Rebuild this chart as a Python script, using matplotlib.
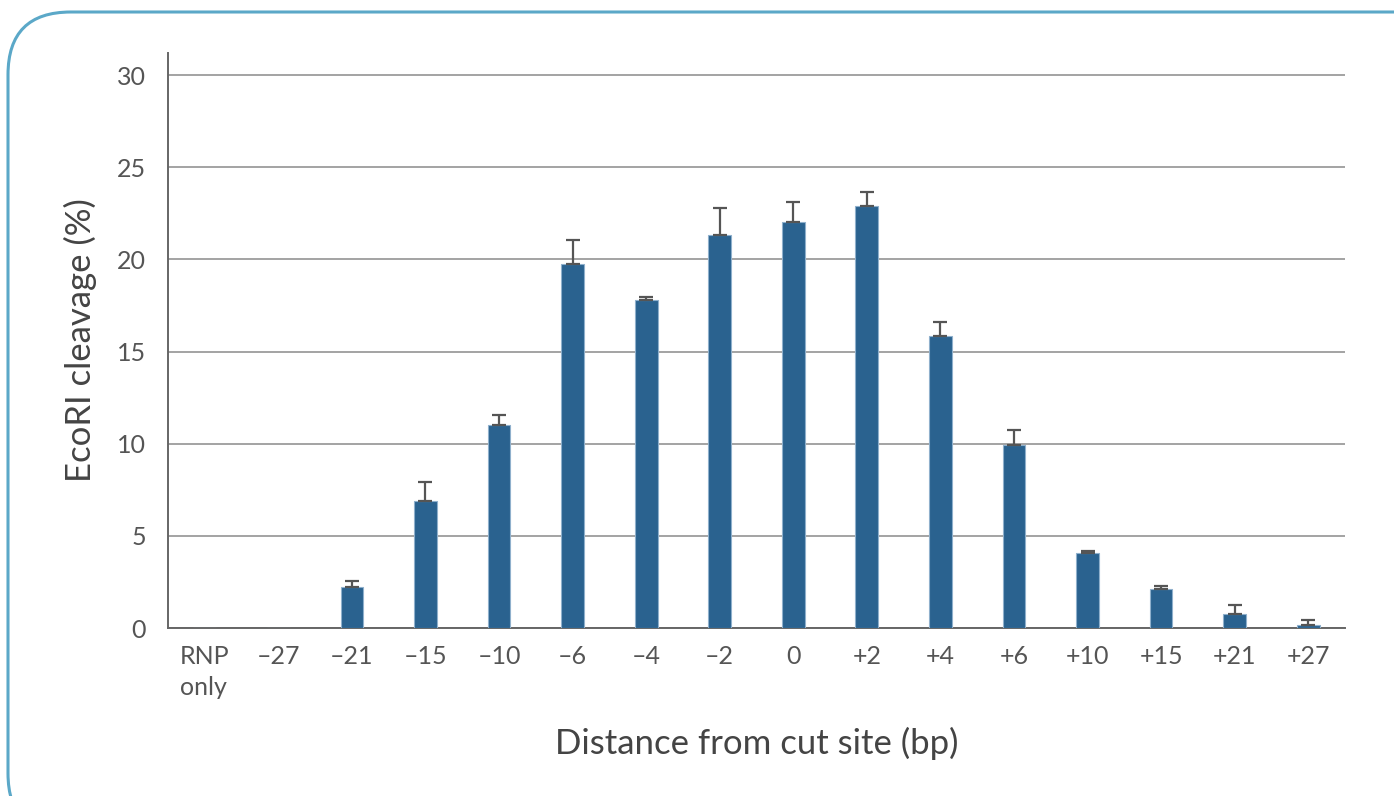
import numpy as np
import matplotlib.pyplot as plt
from matplotlib.patches import FancyBboxPatch

plt.rcParams['font.family'] = ['Lato', 'DejaVu Sans']

# cleavage per position, with upper error
labels = ['RNP\nonly', '–27', '–21', '–15', '–10', '–6', '–4', '–2', '0',
          '+2', '+4', '+6', '+10', '+15', '+21', '+27']
cleavage = [0, 0, 2.22, 6.89, 11.01, 19.75, 17.78, 21.31, 22.01,
            22.92, 15.84, 9.93, 4.07, 2.10, 0.74, 0.16]
err_up = [0, 0, 0.33, 1.03, 0.55, 1.3, 0.18, 1.46, 1.09,
          0.76, 0.76, 0.8, 0.1, 0.2, 0.52, 0.29]

W, H = 1394, 796
fig = plt.figure(figsize=(W / 100, H / 100), dpi=100)

# rounded frame around the whole chart (right and bottom run off the edge)
frame = FancyBboxPatch((8 / W, -40 / H), (W + 80) / W, (H + 28) / H,
                       boxstyle="round,pad=0,rounding_size=0.045",
                       transform=fig.transFigure, facecolor='none',
                       edgecolor='#5ba8c8', linewidth=2.2,
                       mutation_aspect=W / H)
fig.patches.append(frame)

ax = fig.add_axes([168 / W, 1 - 628 / H, (1345 - 168) / W, (628 - 53) / H])
x = np.arange(len(labels))
ax.bar(x, cleavage, width=0.31, color='#2a628f', edgecolor='#8fb0cc',
       linewidth=0.8, zorder=3)
mask = np.array(err_up) > 0
ax.errorbar(x[mask], np.array(cleavage)[mask],
            yerr=[np.zeros(mask.sum()), np.array(err_up)[mask]],
            fmt='none', ecolor='#555555', elinewidth=1.6, capsize=4.7,
            capthick=1.6, zorder=4)

ax.set_xlim(-0.5, len(labels) - 0.5)
ax.set_ylim(0, 31.2)
ax.set_yticks([0, 5, 10, 15, 20, 25, 30])
ax.yaxis.grid(True, color='#8a8a8a', linewidth=1.1, zorder=0)
ax.set_axisbelow(True)

ax.set_xticks(x)
ax.set_xticklabels(labels, multialignment='left', linespacing=1.45)
ax.tick_params(axis='both', length=0, labelsize=18, labelcolor='#555555')
ax.tick_params(axis='x', pad=12)
ax.tick_params(axis='y', pad=16)

for s in ['top', 'right']:
    ax.spines[s].set_visible(False)
ax.spines['left'].set_color('#666666')
ax.spines['left'].set_linewidth(1.4)
ax.spines['bottom'].set_color('#666666')
ax.spines['bottom'].set_linewidth(1.4)

ax.set_ylabel('EcoRI cleavage (%)', fontsize=25, color='#444444', labelpad=14)
ax.set_xlabel('Distance from cut site (bp)', fontsize=25, color='#444444',
              labelpad=20)

fig.savefig('out.png', dpi=100)
